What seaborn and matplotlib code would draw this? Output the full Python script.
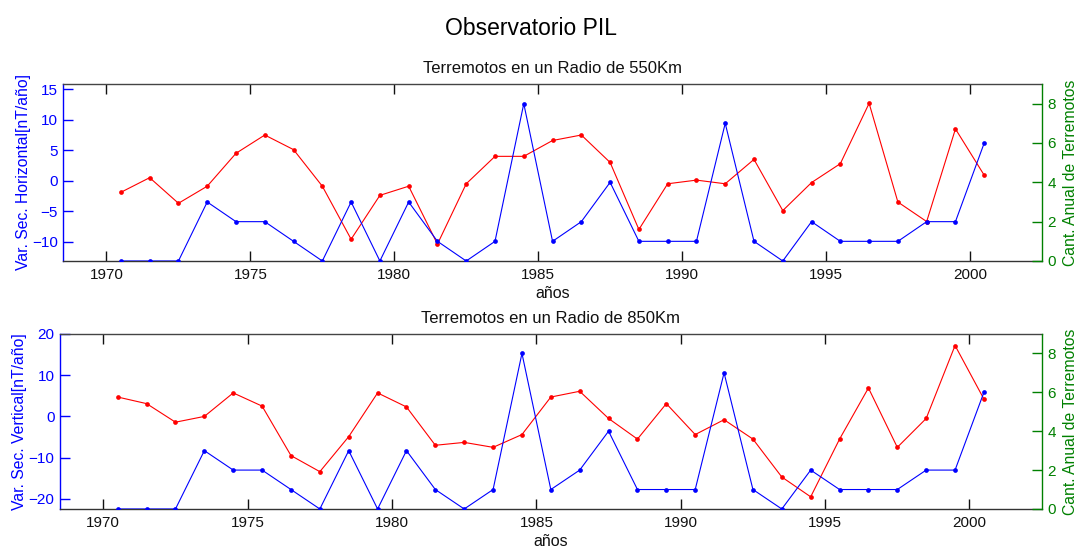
import numpy as np
import pandas as pd
import matplotlib
matplotlib.use("Agg")
import matplotlib.pyplot as plt
import seaborn as sns

years = [1970.5 + i for i in range(31)]

var_horizontal = [-1.9, 0.5, -3.7, -0.9, 4.5, 7.5, 5.1, -0.9, -9.6, -2.4,
                  -0.9, -10.4, -0.5, 4.0, 4.0, 6.6, 7.5, 3.0, -8.0, -0.5,
                  0.1, -0.5, 3.5, -4.9, -0.3, 2.8, 12.7, -3.5, -6.7, 8.5, 0.9]
sismos_550 = [0, 0, 0, 3, 2, 2, 1, 0, 3, 0,
              3, 1, 0, 1, 8, 1, 2, 4, 1, 1,
              1, 7, 1, 0, 2, 1, 1, 1, 2, 2, 6]

var_vertical = [4.7, 3.1, -1.4, 0.0, 5.7, 2.5, -9.5, -13.4, -4.9, 5.7,
                2.3, -7.0, -6.3, -7.5, -4.4, 4.7, 6.1, -0.5, -5.5, 3.1,
                -4.4, -0.8, -5.5, -14.7, -19.5, -5.5, 6.9, -7.5, -0.5, 17.2, 4.2]
sismos_850 = [0, 0, 0, 3, 2, 2, 1, 0, 3, 0,
              3, 1, 0, 1, 8, 1, 2, 4, 1, 1,
              1, 7, 1, 0, 2, 1, 1, 1, 2, 2, 6]

xticks = [1970, 1975, 1980, 1985, 1990, 1995, 2000]
left_ticks_top = [-10, -5, 0, 5, 10, 15]
left_ticks_bot = [-20, -10, 0, 10, 20]
right_ticks = [0, 2, 4, 6, 8]

titles = ["Terremotos en un Radio de 550Km", "Terremotos en un Radio de 850Km"]
left_labels = ["Var. Sec. Horizontal[nT/año]", "Var. Sec. Vertical[nT/año]"]
right_label = "Cant. Anual de Terremotos"
xlabel = "años"
suptitle = "Observatorio PIL"

sns.set_style("white")
plt.rcParams['font.family'] = ['Liberation Sans', 'DejaVu Sans']
plt.rcParams['text.color'] = 'black'
plt.rcParams['axes.labelcolor'] = 'black'

BLUE = "#0000ff"
RED = "#ff0000"
GREEN = "#008000"
FS = 11

fig = plt.figure(figsize=(10.77, 5.49), dpi=100)

rects = [[0.0588, 0.5246, 0.9085, 0.3224],
         [0.0557, 0.0729, 0.9115, 0.3188]]
ylims = [(-13.17, 15.87), (-22.45, 20.0)]
lticks = [left_ticks_top, left_ticks_bot]
datas = [(var_horizontal, sismos_550), (var_vertical, sismos_850)]

for i in range(2):
    ax = fig.add_axes(rects[i])
    red_vals, counts = datas[i]
    df = pd.DataFrame({"year": years, "var": red_vals, "cnt": counts})
    sns.lineplot(data=df, x="year", y="var", ax=ax, color=RED, marker="o",
                 markersize=3.4, markeredgewidth=0, linewidth=0.8)
    ax.set_xlim(1968.5, 2002.5)
    ax.set_ylim(*ylims[i])
    ax.set_xticks(xticks)
    ax.set_yticks(lticks[i])
    ax.set_xticklabels([str(t) for t in xticks])
    ax.tick_params(axis='x', direction='in', length=7, width=1, colors='#111111',
                   top=True, bottom=True, labelsize=FS, pad=5)
    ax.tick_params(axis='y', direction='in', length=7, width=1, colors=BLUE,
                   left=True, right=True, labelright=False, labelsize=FS, pad=4)
    ax.spines['left'].set_color(BLUE)
    ax.spines['top'].set_color('#444444')
    ax.spines['bottom'].set_color('#333333')
    ax.spines['right'].set_visible(False)
    for s in ax.spines.values():
        s.set_linewidth(1)
    ax.set_ylabel(left_labels[i], color=BLUE, fontsize=11.3, labelpad=1)
    ax.set_xlabel(xlabel, fontsize=11.5, labelpad=3, color='#111111')
    ax.set_title(titles[i], fontsize=12, pad=8, color='#111111')

    ax2 = ax.twinx()
    sns.lineplot(data=df, x="year", y="cnt", ax=ax2, color=BLUE, marker="o",
                 markersize=3.4, markeredgewidth=0, linewidth=0.8)
    ax2.set_ylim(0, 9)
    ax2.set_yticks(right_ticks)
    ax2.tick_params(axis='y', direction='in', length=7, width=1, colors=GREEN,
                    labelsize=FS, pad=4)
    ax2.set_ylabel(right_label, color=GREEN, fontsize=11.3, labelpad=5)
    for name in ['left', 'top', 'bottom']:
        ax2.spines[name].set_visible(False)
    ax2.spines['right'].set_color(GREEN)
    ax2.spines['right'].set_linewidth(1)
    ax2.set_xlim(1968.5, 2002.5)

fig.text(0.493, 0.948, suptitle, ha='center', va='center', fontsize=16.5,
         color='black')

fig.savefig("out.png", dpi=100)
